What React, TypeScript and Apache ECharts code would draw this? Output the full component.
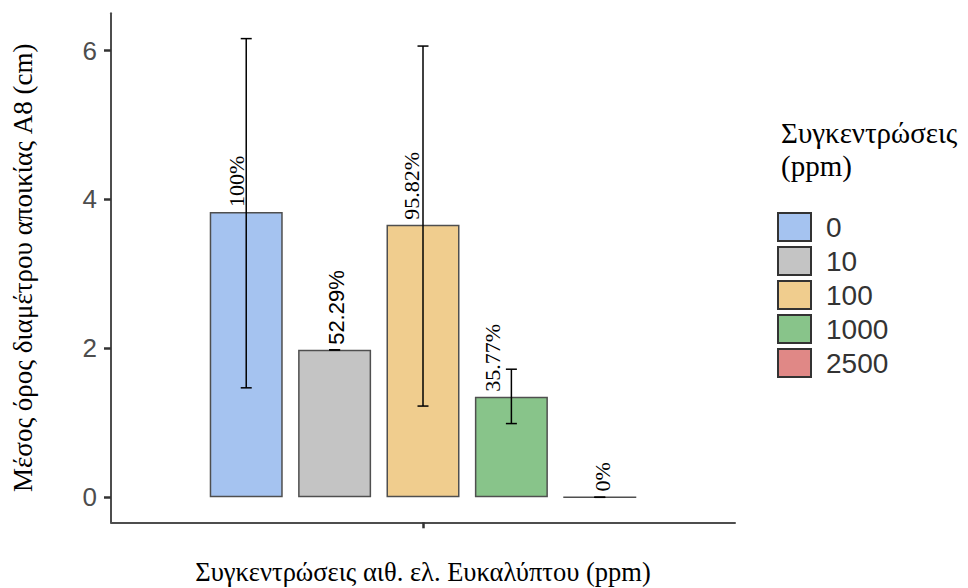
import React, { useEffect, useRef } from "react";
import * as echarts from "echarts";

const concentrations = ["0", "10", "100", "1000", "2500"];
const positions = [1, 2, 3, 4, 5];
const meanDiameter = [3.83, 1.98, 3.66, 1.35, 0];
const errLow = [1.47, 1.98, 1.225, 0.99, 0];
const errHigh = [6.16, 1.98, 6.06, 1.72, 0];
const pctLabels = ["100%", "52.29%", "95.82%", "35.77%", "0%"];
const yTicks = [0, 2, 4, 6];

const colors = ["#a5c3f0", "#c4c4c4", "#f0cd8e", "#88c48a", "#e08886"];
const labelOffsets = [-10, 2, -12, -19, 3];
const labelFonts = ["Liberation Serif", "Liberation Sans", "Liberation Serif", "Liberation Serif", "Liberation Serif"];

export default function App() {
  const ref = useRef<HTMLDivElement>(null);
  useEffect(() => {
    if (!ref.current) return;
    const chart = echarts.init(ref.current, undefined, { renderer: "svg" });
    const barSeries = concentrations.map((c, i) => ({
      name: c,
      type: "bar",
      barWidth: 73,
      barGap: "-100%",
      data: [[positions[i], meanDiameter[i]]],
      itemStyle: { color: colors[i], borderColor: "#4f4f4f", borderWidth: 1.5 },
      label: {
        show: true,
        position: "top",
        rotate: 90,
        align: "left",
        verticalAlign: "middle",
        distance: 5,
        offset: [0, labelOffsets[i]],
        formatter: () => pctLabels[i],
        fontFamily: labelFonts[i],
        fontSize: 22,
        color: "#000",
      },
      z: 2,
    }));
    const errData = positions.map((p, i) => [p, errLow[i], errHigh[i]]);
    const option: any = {
      animation: false,
      grid: { left: 111, right: 233, top: 13.3, bottom: 65.7, containLabel: false, outerBoundsMode: "none" },
      xAxis: {
        type: "value",
        min: -0.53,
        max: 6.53,
        splitLine: { show: false },
        axisLine: { show: true, onZero: false, lineStyle: { color: "#4d4d4d", width: 2 } },
        axisTick: { show: true, customValues: [3], length: 6, lineStyle: { color: "#333", width: 2.5 } },
        axisLabel: { show: false },
        name: "Συγκεντρώσεις αιθ. ελ. Ευκαλύπτου (ppm)",
        nameLocation: "middle",
        nameGap: 36,
        nameTextStyle: { fontFamily: "Liberation Serif", fontSize: 26.5, color: "#000" },
      },
      yAxis: {
        type: "value",
        min: -0.336,
        max: 6.5,
        splitLine: { show: false },
        axisLine: { show: true, onZero: false, lineStyle: { color: "#4d4d4d", width: 2 } },
        axisTick: { show: true, customValues: yTicks, length: 7, lineStyle: { color: "#333", width: 2.5 } },
        axisLabel: {
          customValues: yTicks,
          fontFamily: "Liberation Sans",
          fontSize: 26,
          color: "#4d4d4d",
          margin: 14,
        },
        name: "Μέσος όρος διαμέτρου αποικίας A8 (cm)",
        nameLocation: "middle",
        nameGap: 75,
        nameRotate: 90,
        nameTextStyle: { fontFamily: "Liberation Serif", fontSize: 27, color: "#000" },
      },
      legend: {
        left: 777,
        top: 212,
        padding: 0,
        orient: "vertical",
        itemWidth: 33,
        itemHeight: 28,
        itemGap: 4,
        icon: "rect",
        itemStyle: { borderColor: "#333", borderWidth: 2 },
        textStyle: { fontFamily: "Liberation Sans", fontSize: 28, color: "#333", padding: [0, 0, 0, 10] },
        data: concentrations,
      },
      graphic: [
        {
          type: "text",
          left: 781,
          top: 116,
          style: {
            text: "Συγκεντρώσεις\n(ppm)",
            fontFamily: "Liberation Serif",
            fontSize: 29,
            lineHeight: 33,
            fill: "#000",
          },
        },
      ],
      series: [
        ...barSeries,
        {
          type: "custom",
          name: "err",
          data: errData,
          z: 5,
          renderItem: (params: any, api: any) => {
            const x = api.value(0);
            const lo = api.coord([x, api.value(1)]);
            const hi = api.coord([x, api.value(2)]);
            const hw = 5.5;
            const style = { stroke: "#000", lineWidth: 1.5 };
            return {
              type: "group",
              children: [
                { type: "line", shape: { x1: lo[0], y1: lo[1], x2: hi[0], y2: hi[1] }, style },
                { type: "line", shape: { x1: hi[0] - hw, y1: hi[1], x2: hi[0] + hw, y2: hi[1] }, style },
                { type: "line", shape: { x1: lo[0] - hw, y1: lo[1], x2: lo[0] + hw, y2: lo[1] }, style },
              ],
            };
          },
        },
      ],
    };
    chart.setOption(option);
    return () => chart.dispose();
  }, []);
  return (
    <div
      ref={ref}
      style={{ position: "fixed", left: 0, top: 0, width: 968, height: 588, background: "#fff" }}
    />
  );
}
